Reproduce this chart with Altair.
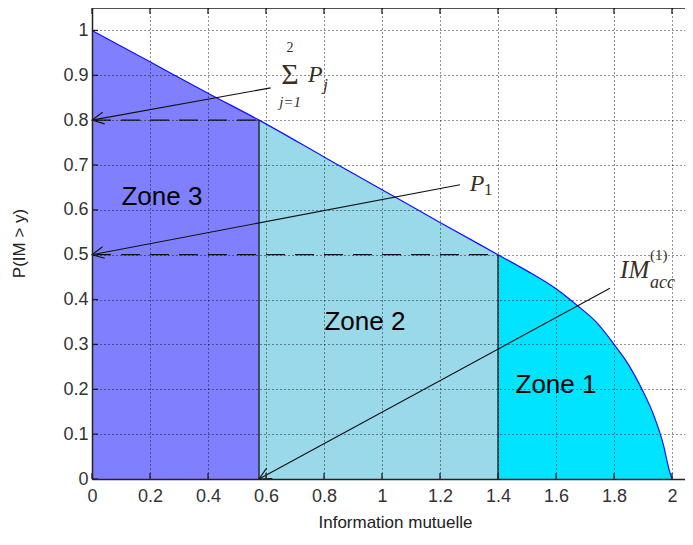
import math
import altair as alt
import pandas as pd

# ---------------- data ----------------
curve_x = [0.0, 0.2, 0.4, 0.576, 0.8, 1.0, 1.2, 1.4, 1.5, 1.6, 1.671, 1.74, 1.798, 1.85, 1.895, 1.94, 1.97, 1.99, 2.0]
curve_y = [1.0, 0.93, 0.86, 0.8, 0.718, 0.645, 0.572, 0.5, 0.464, 0.424, 0.388, 0.349, 0.302, 0.255, 0.202, 0.137, 0.077, 0.021, 0.0]

zone_names = ["Zone 3", "Zone 2", "Zone 1"]
zone_bounds = [0.0, 0.576, 1.4, 2.0]
zone_colors = ["#8080ff", "#99d9ea", "#00e4ff"]
zone_label_x = [0.241, 0.941, 1.60]
zone_label_y = [0.628, 0.350, 0.209]

boundary_x = [0.576, 1.4]
boundary_y = [0.8, 0.5]

dash_y = [0.8, 0.5]
dash_x_end = [0.576, 1.4]

arrow_from_x = [0.616, 1.269, 1.786]
arrow_from_y = [0.872, 0.656, 0.425]
arrow_to_x = [0.0, 0.0, 0.576]
arrow_to_y = [0.8, 0.5, 0.0]

x_ticks = [0, 0.2, 0.4, 0.6, 0.8, 1.0, 1.2, 1.4, 1.6, 1.8, 2.0]
y_ticks = [0, 0.1, 0.2, 0.3, 0.4, 0.5, 0.6, 0.7, 0.8, 0.9, 1.0]

# math labels
math_text = ["Σ", "2", "j=1", "P", "j", "P", "1", "IM", "(1)", "acc"]
math_x = [0.683, 0.683, 0.683, 0.745, 0.797, 1.303, 1.352, 1.821, 1.924, 1.924]
math_y = [0.900, 0.960, 0.840, 0.900, 0.878, 0.657, 0.644, 0.465, 0.499, 0.436]
math_size = [30, 14, 15, 24, 17, 24, 17, 25, 15, 18]
math_style = ["normal", "normal", "italic", "italic", "italic", "italic", "normal", "italic", "normal", "italic"]
math_align = ["center", "center", "center", "left", "left", "left", "left", "left", "left", "left"]

# ---------------- layout ----------------
W, H = 593, 471
XMAX = W / 290.0
YMAX = 1.05
SANS = "Liberation Sans, Arial, sans-serif"
SERIF = "Liberation Serif, Times New Roman, serif"
MATH_COLOR = "#3b2f1e"

xscale = alt.Scale(domain=[0, XMAX], nice=False, zero=False)
yscale = alt.Scale(domain=[0, YMAX], nice=False, zero=False)

x_axis = alt.Axis(
    values=x_ticks, format="~g", grid=True, gridDash=[1, 3], gridColor="#000",
    gridOpacity=0.85, ticks=False, tickSize=0, labelFont=SANS, labelFontSize=18,
    labelColor="#333", labelPadding=8, labelFlush=False, labelOverlap=False,
    domainColor="#222", domainWidth=1.5, title="Information mutuelle",
    titleFont=SANS, titleFontSize=17, titleFontWeight="normal", titleColor="#222",
    titleX=303, titleY=43, titleBaseline="middle", titleAlign="center", zindex=1,
)
y_axis = alt.Axis(
    values=y_ticks, format="~g", grid=True, gridDash=[1, 3], gridColor="#000",
    gridOpacity=0.85, ticks=False, tickSize=0, labelFont=SANS, labelFontSize=18,
    labelColor="#333", labelPadding=4, labelFlush=False, labelOverlap=False,
    domainColor="#222", domainWidth=1.5, title="P(IM > y)",
    titleFont=SANS, titleFontSize=17, titleFontWeight="normal", titleColor="#222",
    titleX=-73, titleY=235, titleBaseline="middle", titleAlign="center", zindex=1,
)


def X(f, **kw):
    return alt.X(f, type="quantitative", scale=xscale, axis=x_axis, **kw)


def Y(f, **kw):
    return alt.Y(f, type="quantitative", scale=yscale, axis=y_axis, **kw)


# zone fills
rows = []
for i, z in enumerate(zone_names):
    lo, hi = zone_bounds[i], zone_bounds[i + 1]
    for xv, yv in zip(curve_x, curve_y):
        if lo - 1e-9 <= xv <= hi + 1e-9:
            rows.append({"x": xv, "y": yv, "zone": z})
zone_df = pd.DataFrame(rows)

areas = alt.Chart(zone_df).mark_area(opacity=1, interpolate="monotone").encode(
    x=X("x"),
    y=Y("y", stack=None),
    color=alt.Color("zone:N", scale=alt.Scale(domain=zone_names, range=zone_colors), legend=None),
    detail="zone:N",
)

curve_df = pd.DataFrame({"x": curve_x, "y": curve_y})
curve = alt.Chart(curve_df).mark_line(color="#1010ff", strokeWidth=1.2, interpolate="monotone").encode(
    x=X("x"), y=Y("y"), order="x:Q"
)

bound_df = pd.DataFrame({"x": boundary_x, "y": boundary_y, "y0": [0.0, 0.0]})
bounds = alt.Chart(bound_df).mark_rule(color="#1a1a1a", strokeWidth=1.3).encode(
    x=X("x"), y=Y("y0"), y2="y"
)

dash_df = pd.DataFrame({"y": dash_y, "x2": dash_x_end, "x0": [0.0, 0.0]})
dashes = alt.Chart(dash_df).mark_rule(color="#111", strokeWidth=1.3, strokeDash=[19, 10]).encode(
    x=X("x0"), x2="x2", y=Y("y")
)

sx = W / XMAX
sy = H / YMAX
angles = []
for fx, fy, tx, ty in zip(arrow_from_x, arrow_from_y, arrow_to_x, arrow_to_y):
    dx = (tx - fx) * sx
    dy = -(ty - fy) * sy
    angles.append(math.degrees(math.atan2(dy, dx)) % 360)
arrow_df = pd.DataFrame({
    "fx": arrow_from_x, "fy": arrow_from_y, "tx": arrow_to_x, "ty": arrow_to_y, "ang": angles,
})
arrows = alt.Chart(arrow_df).mark_rule(color="#111", strokeWidth=1.1).encode(
    x=X("fx"), y=Y("fy"), x2="tx", y2="ty"
)
heads = alt.Chart(arrow_df).mark_point(
    shape="M -1 -0.5 L 0 0 L -1 0.5", filled=False, size=560, color="#111",
    strokeWidth=1.1, opacity=1,
).encode(x=X("tx"), y=Y("ty"), angle=alt.Angle("ang:Q", scale=None))

zlab_df = pd.DataFrame({"x": zone_label_x, "y": zone_label_y, "t": zone_names})
zlabels = alt.Chart(zlab_df).mark_text(
    font=SANS, fontSize=26, color="#000", align="center", baseline="middle"
).encode(x=X("x"), y=Y("y"), text="t:N")

math_df = pd.DataFrame({
    "t": math_text, "x": math_x, "y": math_y, "s": math_size,
    "st": math_style, "al": math_align,
})
math_layers = []
for st in ["normal", "italic"]:
    for al in ["center", "left"]:
        sub = math_df[(math_df["st"] == st) & (math_df["al"] == al)]
        if len(sub) == 0:
            continue
        math_layers.append(
            alt.Chart(sub).mark_text(
                font=SERIF, fontStyle=st, align=al, baseline="middle", color=MATH_COLOR
            ).encode(x=X("x"), y=Y("y"), text="t:N", size=alt.Size("s:Q", scale=None, legend=None))
        )

xt_df = pd.DataFrame({"t": x_ticks})
yt_df = pd.DataFrame({"t": y_ticks})
xticks_bottom = alt.Chart(xt_df).mark_rule(color="#222", strokeWidth=1.3).encode(
    x=X("t"), y=alt.value(H), y2=alt.value(H - 6)
)
xticks_top = alt.Chart(xt_df).mark_rule(color="#222", strokeWidth=1.3).encode(
    x=X("t"), y=alt.value(0), y2=alt.value(6)
)
yticks_left = alt.Chart(yt_df).mark_rule(color="#222", strokeWidth=1.3).encode(
    y=Y("t"), x=alt.value(0), x2=alt.value(6)
)
top_border = alt.Chart(pd.DataFrame({"a": [0]})).mark_rule(color="#222", strokeWidth=1.5).encode(
    x=alt.value(0), x2=alt.value(W), y=alt.value(0)
)

chart = alt.layer(
    areas, bounds, dashes, curve, arrows, heads, zlabels, *math_layers,
    xticks_bottom, xticks_top, yticks_left, top_border,
).properties(
    width=W, height=H,
    autosize=alt.AutoSizeParams(type="none"),
    padding={"left": 84, "top": 0, "right": 0, "bottom": 56},
).configure_view(stroke=None).configure(background="#ffffff")

chart.save("out.html", embed_options={"renderer": "svg", "actions": False})
